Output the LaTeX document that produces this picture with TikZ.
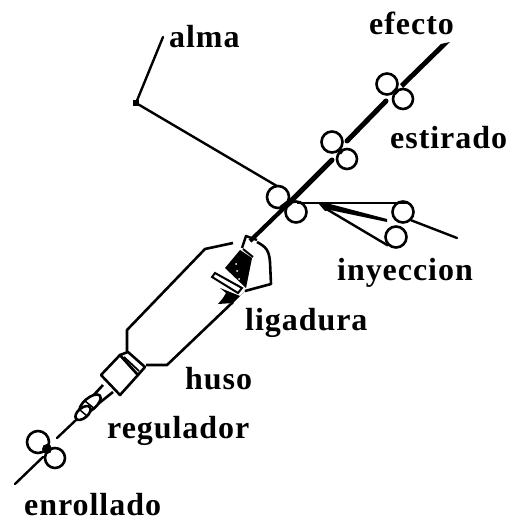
\documentclass[tikz,border=0pt]{standalone}
\usepackage{fontspec}
\setmainfont[LetterSpace=3]{Liberation Serif}
\begin{document}
\begin{tikzpicture}[x=1pt,y=-1pt,
  lbl/.style={font=\fontsize{32}{33}\selectfont\bfseries,anchor=base west,inner sep=0pt},
  roller/.style={circle,draw=black,line width=2.6pt,fill=white,inner sep=0pt,minimum size=#1pt},
  thread/.style={line width=2.4pt,line cap=round,line join=round},
  yarn/.style={line width=5pt,line cap=round},
  shell/.style={line width=2.6pt,line join=round}]
\useasboundingbox (0,0) rectangle (510,521);
% labels
\node[lbl] (efecto) at (369,35) {efecto};
\node[lbl] (alma) at (169,48) {alma};
\node[lbl] (estirado) at (390,149) {estirado};
\node[lbl] (inyeccion) at (337,280) {inyeccion};
\node[lbl] (ligadura) at (245,330) {ligadura};
\node[lbl] (huso) at (185,389) {huso};
\node[lbl] (regulador) at (107,438) {regulador};
\node[lbl] (enrollado) at (24,515) {enrollado};
% coordinates
\coordinate (almaTop) at (163,37);
\coordinate (almaBend) at (136,103);
\coordinate (almaEnd) at (287,192);
\coordinate (yB) at (386,101);
\coordinate (yC) at (347,141);
\coordinate (yD) at (332,160);
\coordinate (yF) at (250,241);
% alma
\draw[thread] (almaTop) -- (almaBend) -- (almaEnd);
\fill (133,100) rectangle (139,106);
% spindle outline
\draw[shell] (127,352) -- (127,330) -- (205,249) -- (233,243);
\draw[shell] (257,242) .. controls (266,247) and (269,250) .. (270,262) -- (271,284) -- (245,291);
\draw[shell] (233,302) -- (167,365) -- (146,365);
% rollers
\node[roller=21] (r1a) at (387,84) {};
\node[roller=20] (r1b) at (403,99) {};
\node[roller=21] (r2a) at (332,142) {};
\node[roller=20] (r2b) at (347,159) {};
\node[roller=22] (r3a) at (278,197) {};
\node[roller=21] (r3b) at (296,212) {};
\node[roller=21] (r5a) at (403,212) {};
\node[roller=21] (r5b) at (396,237) {};
\node[roller=22] (r4a) at (38,442) {};
\node[roller=20] (r4b) at (55,458) {};
% yarn
\fill (450,42) -- (441,44) -- (400,84) -- (403,88) -- cycle;
\draw[line width=5pt] (397,90) -- (394,93);
\draw[yarn] (yB) -- (yC);
\draw[line width=5pt] (342,149) -- (339,153);
\draw[yarn] (yD) -- (287,205);
\draw[line width=6pt] (290,202) -- (282,208);
\draw[line width=4.2pt] (285,207) -- (yF);
% injection
\coordinate (iA) at (323,207);
\draw[line width=2pt] (297,203) -- (396,203) -- (408,203);
\fill (318,203) -- (330,204) -- (387,219) -- (387,222) -- (330,210) -- (325,211) -- cycle;
\draw[thread] (iA) -- (r5b.south west);
\draw[thread] (r5a.south east) -- (457,238);
% ligature
\fill (240,250) -- (252,258) -- (246,288) -- (225,268) -- cycle;
\draw[line width=2.4pt,line join=round] (242,248) -- (246,236) -- (257,240);
\draw[line width=2pt] (243,249) -- (253,257);
\draw[line width=2pt,fill=white] (212,277) -- (215,273) -- (242,288) -- (238,293) -- cycle;
\fill (220,288) -- (240,296) -- (246,290) -- (233,303) -- (218,304) -- (223,298) -- (226,293) -- cycle;
\fill[white] (236,264) circle (1) (237,271) circle (1) (239,279) circle (1);
% package
\draw[shell,fill=white] (120,355) -- (138,375) -- (120,395) -- (101,375) -- cycle;
\draw[shell,fill=white] (128,352) -- (145,367) -- (138,375) -- (120,355) -- cycle;
\draw[line width=1.8pt] (124,357) -- (139,371);
% neck
\draw[shell] (103,385) -- (91,398);
\draw[shell] (113,392) -- (98,404);
% regulator
\draw[shell,fill=white,rotate around={40:(90,404)}] (90,404) ellipse (13 and 6);
\draw[line width=1.5pt] (85,401) -- (95,409);
\draw[shell,fill=white,rotate around={40:(83,413)}] (83,413) ellipse (9 and 5);
\draw[line width=1.5pt] (80,410) -- (87,416);
\draw[thread] (76,420) -- (57,438);
\draw[thread] (43,457) -- (15,484);
\fill (47,449) circle (5);
\end{tikzpicture}
\end{document}
